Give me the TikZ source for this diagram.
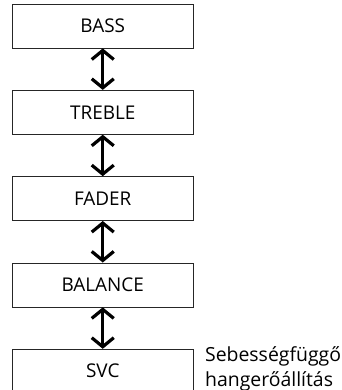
\documentclass[tikz,border=0pt]{standalone}
\usepackage{fontspec}
\setmainfont{Open Sans}
\usetikzlibrary{arrows.meta,positioning}
\tikzset{
  ctrlbox/.style={draw=black!85, line width=0.8bp, minimum width=181.5bp, minimum height=44bp, inner sep=0pt, align=center},
  dblarrow/.style={line width=3.2bp, {Straight Barb[length=9bp,width=22bp]}-{Straight Barb[length=9bp,width=22bp]}},
  note/.style={align=left, inner sep=0pt, font=\fontsize{19.5}{24.5}\selectfont},
}

\begin{document}
\begin{tikzpicture}[node distance=41.5bp, font=\fontsize{19}{22}\selectfont]
  \useasboundingbox (0,0) rectangle (342bp,-390bp);

  \node[ctrlbox] (bass) at (102.75bp,-26bp) {BASS};
  \node[ctrlbox, below=of bass] (treble) {TREBLE};
  \node[ctrlbox, below=of treble] (fader) {FADER};
  \node[ctrlbox, below=of fader] (balance) {BALANCE};
  \node[ctrlbox, below=of balance] (svc) {SVC};

  \node[note, anchor=north west] (svcnote) at ([xshift=11bp,yshift=2bp]svc.north east) {Sebességfüggő\\hangerőállítás};

  \draw[dblarrow] (bass) -- (treble);
  \draw[dblarrow] (treble) -- (fader);
  \draw[dblarrow] (fader) -- (balance);
  \draw[dblarrow] (balance) -- (svc);
\end{tikzpicture}
\end{document}
